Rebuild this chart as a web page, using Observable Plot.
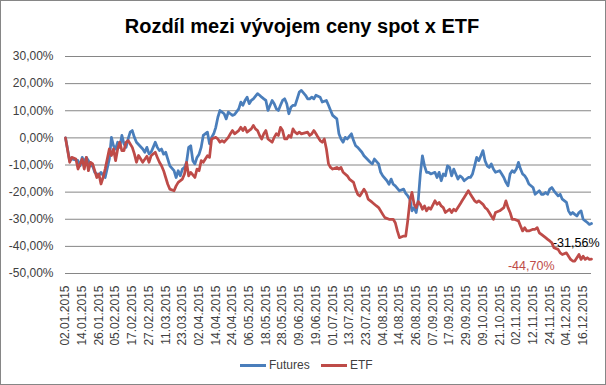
<!DOCTYPE html>
<html>
<head>
<meta charset="utf-8">
<script src="https://cdn.jsdelivr.net/npm/d3@7"></script>
<script src="https://cdn.jsdelivr.net/npm/@observablehq/plot@0.6"></script>
<style>
  body { margin: 0; background: #fff; }
  #wrap { position: relative; width: 606px; height: 385px; overflow: hidden; background: #fff;
          font-family: "Liberation Sans", Arial, sans-serif; }
  #border { position: absolute; left: 0; top: 0; width: 604px; height: 383px; border: 1px solid #868686; pointer-events: none; }
  #title { position: absolute; left: 0; top: 16px; width: 604px; text-align: center; font-weight: bold;
           font-size: 20px; line-height: 20px; color: #000; }
  #chart { position: absolute; left: 0; top: 0; }
  .lg-sw { position: absolute; height: 3px; width: 26px; top: 364px; }
  .lg-tx { position: absolute; top: 358px; font-size: 12px; line-height: 14px; color: #404040; }
</style>
</head>
<body>
<div id="wrap">
  <div id="chart"></div>
  <div id="title">Rozdíl mezi vývojem ceny spot x ETF</div>
  <div id="legend"></div>
  <div id="border"></div>
</div>
<script>
// ---- data ----
const seriesNames = ["Futures", "ETF"];
const seriesColors = ["#4A7EBB", "#BE4B48"];

const dateLabels = ["02.01.2015","14.01.2015","26.01.2015","05.02.2015","17.02.2015","27.02.2015",
  "11.03.2015","23.03.2015","02.04.2015","14.04.2015","24.04.2015","06.05.2015","18.05.2015",
  "28.05.2015","09.06.2015","19.06.2015","01.07.2015","13.07.2015","23.07.2015","04.08.2015",
  "14.08.2015","26.08.2015","07.09.2015","17.09.2015","29.09.2015","09.10.2015","21.10.2015",
  "02.11.2015","12.11.2015","24.11.2015","04.12.2015","16.12.2015"];
const labelStep = 8; // trading days between category labels
const lastDay = 252;

const yTicks = [30, 20, 10, 0, -10, -20, -30, -40, -50];

// [trading day index, % difference]
const futures = [[0,0],[2,-8.4],[3,-7.8],[6,-8.4],[7,-10.3],[8,-7.2],[9,-9.0],[10,-7.2],[11,-8.4],[12,-10.3],
 [13,-10.3],[14,-12.7],[15,-13.3],[16,-13.9],[17,-12.7],[18,-13.9],[19,-14.6],[21,-7.8],[22,0.2],[23,-2.9],
 [24,-4.1],[25,-1.6],[26,-3.5],[27,0.9],[28,-2.2],[29,-3.5],[30,-0.4],[31,2.1],[32,2.7],[33,0.2],[34,-1.6],
 [37,-4.1],[38,-5.3],[39,-3.5],[40,-5.9],[41,-5.3],[42,-3.5],[43,-1.6],[44,-3.5],[45,-4.7],[46,-4.1],[47,-6.0],
 [48,-5.3],[49,-7.8],[50,-10.3],[52,-12.1],[53,-14.6],[54,-12.1],[55,-14.0],[56,-11.5],[57,-10.9],[58,-9.0],
 [59,-3.5],[60,-2.9],[61,-8.4],[62,-9.6],[63,-7.2],[64,-6.0],[65,-3.5],[66,0.9],[68,2.1],[69,-2.2],[70,0.2],
 [71,1.5],[72,3.9],[73,7.6],[74,10.1],[75,9.5],[76,8.9],[77,7.0],[78,9.5],[79,8.9],[80,8.3],[81,8.6],[83,10.7],
 [84,13.2],[85,12.0],[86,13.8],[87,15.0],[88,12.6],[89,13.8],[90,14.4],[92,16.3],[93,15.7],[94,15.0],[95,14.4],
 [96,13.8],[97,10.1],[99,13.8],[100,12.6],[101,10.7],[102,10.1],[103,12.0],[104,13.8],[105,14.4],[106,12.6],
 [107,8.9],[108,11.3],[109,12.0],[110,12.0],[111,14.4],[112,16.9],[113,17.5],[115,15.7],[116,14.4],[117,14.4],
 [118,15.0],[119,14.4],[120,15.7],[122,15.0],[123,13.2],[125,13.8],[126,12.0],[127,10.1],[128,8.3],[130,7.0],
 [131,1.5],[132,-0.4],[133,-1.6],[134,0.2],[135,-0.4],[137,1.5],[138,-1.0],[139,-2.9],[140,-3.5],[142,-5.3],
 [143,-6.6],[146,-9.0],[147,-9.6],[148,-7.8],[150,-9.6],[151,-12.7],[152,-14.0],[154,-15.8],[155,-17.1],
 [156,-15.2],[157,-17.1],[158,-17.7],[160,-19.5],[162,-18.9],[163,-20.5],[164,-21.4],[165,-22.6],[166,-26.9],
 [167,-25.7],[168,-27.5],[169,-23.0],[170,-13.3],[171,-6.6],[172,-10.3],[173,-12.7],[174,-12.7],[175,-13.3],
 [177,-12.7],[178,-14.6],[179,-12.7],[180,-15.8],[181,-13.3],[182,-14.0],[183,-10.3],[184,-10.9],[185,-14.0],
 [186,-11.5],[187,-13.3],[188,-15.2],[189,-14.0],[190,-14.6],[191,-15.8],[193,-14.6],[194,-14.6],[195,-13.3],
 [196,-10.3],[197,-7.2],[198,-8.4],[199,-6.6],[200,-4.7],[201,-8.4],[202,-10.3],[203,-10.9],[204,-9.6],
 [205,-11.5],[206,-12.7],[208,-12.1],[209,-13.3],[210,-14.6],[211,-16.4],[212,-17.7],[213,-13.3],[214,-12.1],
 [215,-12.7],[216,-11.5],[217,-9.0],[218,-11.5],[219,-13.3],[220,-14.0],[221,-15.2],[222,-17.0],[224,-18.3],
 [225,-20.8],[227,-19.5],[228,-20.8],[229,-20.8],[230,-20.1],[231,-20.8],[232,-18.9],[233,-18.3],[234,-19.5],
 [236,-21.4],[237,-20.8],[238,-22.6],[240,-23.8],[241,-26.9],[242,-28.2],[243,-27.5],[244,-28.2],[245,-28.8],
 [246,-27.5],[247,-26.9],[248,-30.0],[249,-30.6],[250,-31.2],[251,-31.9],[252,-31.56]];

const etf = [[0,0],[2,-9.0],[3,-7.2],[5,-7.8],[6,-11.5],[8,-7.8],[9,-11.5],[10,-7.2],[11,-12.1],[12,-9.0],
 [13,-9.6],[14,-12.1],[15,-14.6],[16,-13.3],[17,-17.0],[18,-14.6],[19,-11.5],[21,-4.1],[22,-6.5],[23,-4.1],
 [24,-8.4],[25,-4.1],[26,-1.6],[27,-4.7],[28,-4.7],[29,-1.6],[30,-1.0],[32,-3.5],[33,-5.9],[34,-9.0],[35,-6.5],
 [37,-9.0],[39,-6.8],[40,-9.0],[41,-6.6],[43,-5.3],[44,-7.2],[45,-9.0],[46,-10.3],[47,-12.1],[48,-14.6],
 [49,-17.1],[50,-18.9],[52,-19.5],[53,-17.7],[54,-16.4],[56,-15.2],[57,-13.3],[58,-9.0],[59,-14.0],[60,-12.7],
 [62,-14.6],[63,-11.5],[64,-12.1],[65,-8.4],[66,-9.0],[68,-6.6],[69,-7.2],[70,-0.4],[72,0.2],[73,-0.4],
 [74,-1.6],[75,-1.0],[76,-1.6],[78,0.2],[79,1.5],[80,2.7],[81,1.5],[83,2.7],[84,3.9],[85,2.7],[86,3.9],[87,2.1],
 [89,3.3],[90,4.6],[91,3.3],[92,2.7],[93,0.9],[94,-0.4],[95,1.5],[96,2.7],[97,-0.4],[99,-1.6],[100,0.2],
 [101,1.5],[102,0.9],[103,3.9],[104,2.7],[105,-0.4],[106,-0.4],[107,0.9],[108,0.2],[109,3.3],[110,2.1],
 [111,1.5],[112,2.1],[113,1.5],[116,2.1],[117,0.9],[118,1.5],[119,2.7],[120,1.5],[121,0.2],[122,-1.0],
 [123,-1.6],[124,-0.4],[125,-4.1],[126,-9.6],[127,-10.9],[128,-11.5],[130,-10.9],[131,-11.5],[132,-10.9],
 [133,-12.7],[135,-14.0],[136,-15.2],[138,-16.4],[139,-18.9],[140,-20.8],[141,-21.4],[142,-20.2],[143,-18.9],
 [144,-20.2],[145,-22.6],[147,-23.8],[149,-25.1],[150,-25.7],[152,-28.2],[153,-29.4],[155,-30.0],[157,-30.0],
 [158,-31.3],[159,-34.3],[160,-36.8],[162,-36.2],[163,-36.2],[164,-30.3],[165,-23.2],[166,-20.1],[167,-24.5],
 [168,-25.7],[169,-23.5],[170,-24.5],[171,-26.3],[172,-25.1],[173,-26.9],[174,-25.7],[175,-26.3],[177,-23.2],
 [178,-24.5],[179,-23.8],[180,-25.1],[181,-25.7],[182,-27.5],[184,-26.3],[185,-27.5],[186,-26.3],[187,-26.9],
 [188,-25.7],[189,-24.5],[190,-23.2],[191,-22.0],[193,-19.5],[194,-20.8],[195,-22.0],[196,-23.2],[197,-23.8],
 [198,-23.2],[200,-24.5],[201,-25.7],[202,-26.3],[203,-27.5],[204,-28.8],[205,-30.0],[206,-27.5],[208,-26.9],
 [210,-25.7],[211,-23.2],[212,-25.7],[213,-27.5],[214,-30.0],[215,-30.0],[217,-30.6],[218,-32.5],[219,-34.3],
 [220,-33.1],[221,-34.3],[222,-34.3],[224,-33.7],[225,-33.7],[226,-33.1],[227,-35.0],[228,-35.6],[230,-36.8],
 [231,-37.4],[232,-38.0],[233,-38.7],[234,-40.5],[236,-41.1],[237,-42.4],[238,-43.0],[240,-42.4],[241,-43.6],
 [242,-44.8],[243,-45.4],[244,-45.4],[245,-44.2],[246,-43.0],[247,-44.8],[248,-43.6],[249,-44.8],[250,-44.2],
 [251,-44.8],[252,-44.70]];

const endLabels = ["-31,56%", "-44,70%"];
const endLabelColors = ["#000000", "#BE4B48"];

// ---- build ----
const fmtPct = d => d.toFixed(2).replace(".", ",") + "%";
const toRows = arr => arr.map(([day, value]) => ({day, value}));
const futRows = toRows(futures);
const etfRows = toRows(etf);
const tickDays = dateLabels.map((_, k) => k * labelStep);
const lastFut = futRows[futRows.length - 1];
const lastEtf = etfRows[etfRows.length - 1];

const chart = Plot.plot({
  width: 606,
  height: 385,
  marginLeft: 65,
  marginRight: 15,
  marginTop: 56,
  marginBottom: 112,
  style: {fontFamily: "'Liberation Sans', Arial, sans-serif", fontSize: "12px", color: "#404040", background: "transparent"},
  x: {domain: [0, lastDay]},
  y: {domain: [-50, 30]},
  marks: [
    Plot.gridY(yTicks, {stroke: "#868686", strokeOpacity: 1, strokeWidth: 1}),
    Plot.axisY(yTicks, {tickSize: 0, tickPadding: 12, tickFormat: fmtPct, label: null, fontSize: 12}),
    Plot.axisX(tickDays, {tickSize: 0, tickPadding: 12, tickRotate: -90,
      tickFormat: d => dateLabels[d / labelStep], label: null, fontSize: 12}),
    Plot.line(futRows, {x: "day", y: "value", stroke: seriesColors[0], strokeWidth: 2.75, strokeLinejoin: "round", strokeLinecap: "round"}),
    Plot.line(etfRows, {x: "day", y: "value", stroke: seriesColors[1], strokeWidth: 2.75, strokeLinejoin: "round", strokeLinecap: "round"}),
    Plot.text([lastFut], {x: "day", y: "value", text: () => endLabels[0], fill: endLabelColors[0],
      textAnchor: "end", dx: 8, dy: 20, fontSize: 12.5}),
    Plot.text([lastEtf], {x: "day", y: "value", text: () => endLabels[1], fill: endLabelColors[1],
      textAnchor: "end", dx: -37, dy: 7, fontSize: 12.5})
  ]
});
document.getElementById("chart").appendChild(chart);

// legend
const legend = document.getElementById("legend");
const swLeft = [240, 321], txLeft = [269, 350];
seriesNames.forEach((name, i) => {
  const sw = document.createElement("div");
  sw.className = "lg-sw";
  sw.style.left = swLeft[i] + "px";
  sw.style.background = seriesColors[i];
  legend.appendChild(sw);
  const tx = document.createElement("div");
  tx.className = "lg-tx";
  tx.style.left = txLeft[i] + "px";
  tx.textContent = name;
  legend.appendChild(tx);
});
</script>
</body>
</html>
